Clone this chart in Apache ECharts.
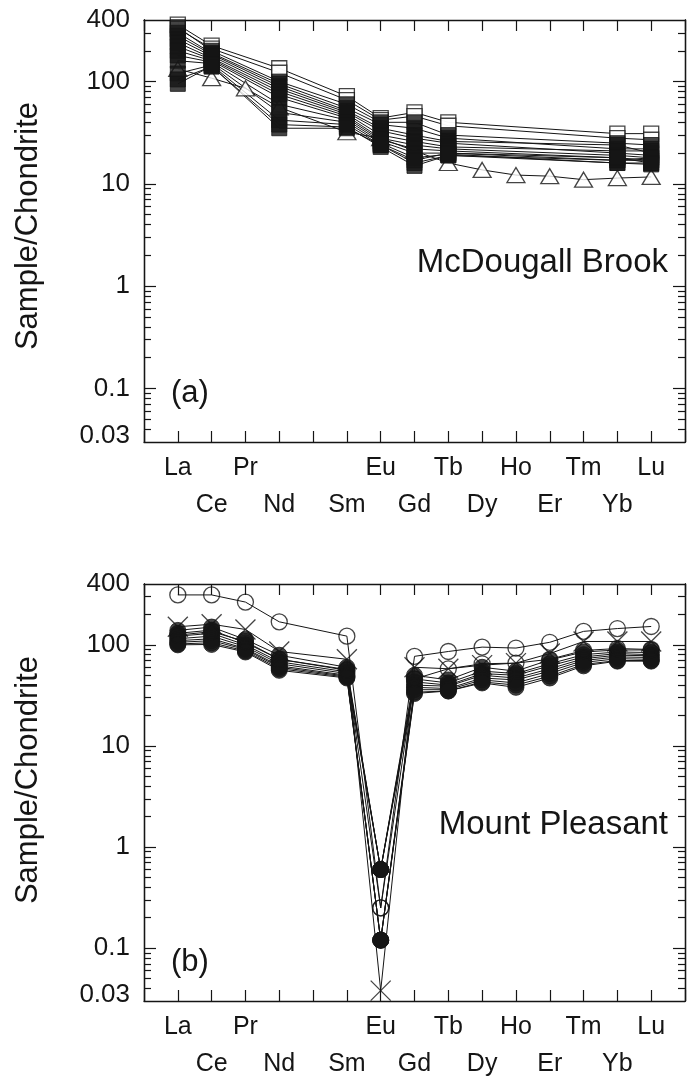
<!DOCTYPE html>
<html>
<head>
<meta charset="utf-8">
<script src="https://cdn.jsdelivr.net/npm/echarts@6.0.0/dist/echarts.min.js"></script>
<style>
html, body { margin: 0; padding: 0; background: #fff; }
#chart { width: 691px; height: 1083px; }
</style>
</head>
<body>
<div id="chart"></div>
<script>
var FONT = '"Liberation Sans", Arial, Helvetica, sans-serif';
var INK = '#151515';

// REE order on the x axis, Pm is an empty slot
var elements = ['La', 'Ce', 'Pr', 'Nd', 'Pm', 'Sm', 'Eu', 'Gd', 'Tb', 'Dy', 'Ho', 'Er', 'Tm', 'Yb', 'Lu'];

// y axis (log) labels and ticks
var yLabelValues = [0.03, 0.1, 1, 10, 100, 400];
var yMajorTicks = [0.1, 1, 10, 100];
var yMinorTicks = [0.04, 0.05, 0.06, 0.07, 0.08, 0.09,
  0.2, 0.3, 0.4, 0.5, 0.6, 0.7, 0.8, 0.9,
  2, 3, 4, 5, 6, 7, 8, 9,
  20, 30, 40, 50, 60, 70, 80, 90,
  200, 300];

// (a) McDougall Brook
var mbEls = ['La', 'Ce', 'Nd', 'Sm', 'Eu', 'Gd', 'Tb', 'Yb', 'Lu'];
var mbOpen = [
  [360, 225, 135, 72, 44, 50, 40, 31, 31],
  [330, 210, 122, 66, 42, 46, 37, 28, 27]
];
var mbFilled = [
  [340, 200, 100, 60, 40, 40, 30, 25, 24],
  [300, 190, 95, 55, 38, 35, 28, 22, 22],
  [280, 185, 90, 52, 35, 30, 26, 24, 20],
  [260, 178, 85, 50, 33, 28, 25, 20, 19],
  [240, 170, 80, 48, 30, 26, 23, 21, 21],
  [220, 165, 75, 46, 28, 24, 22, 19, 18],
  [200, 160, 70, 44, 27, 22, 21, 18, 17],
  [180, 155, 60, 42, 26, 20, 20, 17, 17],
  [160, 150, 50, 40, 25, 18, 19.5, 16, 16],
  [120, 145, 42, 38, 24, 16, 19, 16, 15.5],
  [105, 140, 38, 36, 23, 15, 19, 17, 18],
  [95, 142, 35, 35, 24, 17, 20, 18, 16]
];
var mbTriEls = ['La', 'Ce', 'Pr', 'Nd', 'Sm', 'Eu', 'Gd', 'Tb', 'Dy', 'Ho', 'Er', 'Tm', 'Yb', 'Lu'];
var mbTri = [133, 108, 86, 56, 32, 28, 21, 16, 13.7, 12.2, 11.9, 11.0, 11.4, 11.7];

// (b) Mount Pleasant
var mpEls = ['La', 'Ce', 'Pr', 'Nd', 'Sm', 'Eu', 'Gd', 'Tb', 'Dy', 'Ho', 'Er', 'Tm', 'Yb', 'Lu'];
var mpFilled = [
  [139, 150, 113, 79, 60, 0.6, 50, 45, 60, 55, 71, 85, 89, 89],
  [130, 140, 105, 72, 57, 0.6, 46, 42, 55, 52, 65, 80, 85, 84],
  [122, 130, 100, 68, 54, 0.6, 43, 40, 52, 50, 62, 76, 82, 80],
  [115, 122, 96, 65, 52, 0.6, 40, 39, 50, 47, 58, 73, 79, 78],
  [110, 115, 92, 62, 50, 0.12, 38, 37, 47, 45, 55, 70, 76, 75],
  [106, 110, 90, 60, 49, 0.12, 36, 36, 45, 42, 52, 67, 73, 72],
  [102, 105, 87, 58, 48, 0.12, 34, 35, 43, 40, 49, 64, 70, 70],
  [100, 101, 85, 56, 47, 0.12, 33, 35, 42, 38, 47, 62, 69, 69]
];
var mpOpen = [
  [312, 312, 265, 169, 122, 0.25, 77, 86, 95, 93, 106, 136, 145, 152],
  [125, 135, 108, 72, 56, 0.25, 46, 58, 65, 66, 72, 88, 92, 90]
];
var mpCross = [
  [151, 160, 142, 86, 72, 0.038, 60, 58, 63, 66, 82, 108, 108, 108]
];

var marks = {
  filledSquare: { symbol: 'rect', size: 15, style: { color: INK, borderColor: INK, borderWidth: 1 } },
  openSquare: { symbol: 'rect', size: 15, style: { color: '#fff', borderColor: INK, borderWidth: 1.3 } },
  triangle: { symbol: 'triangle', size: [18, 15], style: { color: '#fff', borderColor: INK, borderWidth: 1.3 } },
  filledCircle: { symbol: 'circle', size: 16, style: { color: INK, borderColor: INK, borderWidth: 1 } },
  openCircle: { symbol: 'circle', size: 16, style: { color: 'rgba(0,0,0,0)', borderColor: INK, borderWidth: 1.3 } },
  cross: { symbol: 'path://M0,0L10,10M10,0L0,10', size: 20, style: { color: 'rgba(0,0,0,0)', borderColor: INK, borderWidth: 1.3 } }
};

function log10s(arr) {
  return arr.map(function (v) { return Math.log10(v); });
}

function toPoints(els, vals) {
  return els.map(function (el, i) {
    return [elements.indexOf(el) + 1, Math.log10(vals[i])];
  });
}

var lines = [];
var symbols = [];
function addSample(gi, els, vals, mark) {
  var data = toPoints(els, vals);
  lines.push({
    type: 'line', xAxisIndex: gi * 2, yAxisIndex: gi * 4, data: data,
    symbol: 'none', silent: true, z: 2,
    lineStyle: { color: INK, width: 1 }
  });
  symbols.push({
    type: 'scatter', xAxisIndex: gi * 2, yAxisIndex: gi * 4, data: data,
    symbol: mark.symbol, symbolSize: mark.size, itemStyle: mark.style,
    silent: true, z: 3
  });
}

// triangles first so the square stacks cover them where they overlap
addSample(0, mbTriEls, mbTri, marks.triangle);
mbOpen.forEach(function (s) { addSample(0, mbEls, s, marks.openSquare); });
mbFilled.forEach(function (s) { addSample(0, mbEls, s, marks.filledSquare); });

mpFilled.forEach(function (s) { addSample(1, mpEls, s, marks.filledCircle); });
mpOpen.forEach(function (s) { addSample(1, mpEls, s, marks.openCircle); });
mpCross.forEach(function (s) { addSample(1, mpEls, s, marks.cross); });

var axisLineStyle = { color: INK, width: 1.3 };
var tickLineStyle = { color: INK, width: 1.2 };

function makeXAxes(gi) {
  var bottom = {
    type: 'value', gridIndex: gi, position: 'bottom', min: 0, max: 16, interval: 1,
    splitLine: { show: false },
    axisLine: { onZero: false, lineStyle: axisLineStyle },
    axisTick: { inside: true, length: 11, lineStyle: tickLineStyle },
    axisLabel: {
      margin: 8, fontSize: 25, lineHeight: 37, fontFamily: FONT, color: INK,
      formatter: function (v) {
        var name = elements[v - 1];
        if (!name || name === 'Pm') return '';
        return (v % 2 === 0 ? '\n' : '') + name;
      }
    }
  };
  var top = {
    type: 'value', gridIndex: gi, position: 'top', min: 0, max: 16, interval: 1,
    splitLine: { show: false },
    axisLine: { onZero: false, lineStyle: axisLineStyle },
    axisTick: { inside: true, length: 11, lineStyle: tickLineStyle },
    axisLabel: { show: false }
  };
  return [bottom, top];
}

function makeYAxes(gi) {
  var list = [];
  ['left', 'right'].forEach(function (side) {
    [true, false].forEach(function (major) {
      var ax = {
        type: 'value', gridIndex: gi, position: side,
        min: Math.log10(0.03), max: Math.log10(400),
        splitLine: { show: false },
        axisLine: { show: true, onZero: false, lineStyle: axisLineStyle },
        axisTick: {
          inside: true, length: major ? 12 : 7, lineStyle: tickLineStyle,
          customValues: log10s(major ? yMajorTicks : yMinorTicks)
        },
        axisLabel: { show: false }
      };
      if (side === 'left' && major) {
        ax.axisLabel = {
          show: true, margin: 14, fontSize: 26, fontFamily: FONT, color: INK,
          customValues: log10s(yLabelValues),
          rich: { low: { fontSize: 26, fontFamily: FONT, color: INK, padding: [0, 0, 12, 0] } },
          formatter: function (v) {
            for (var i = 0; i < yLabelValues.length; i++) {
              if (Math.abs(Math.log10(yLabelValues[i]) - v) < 1e-6) {
                return i === 0 ? '{low|' + yLabelValues[i] + '}' : String(yLabelValues[i]);
              }
            }
            return '';
          }
        };
      }
      list.push(ax);
    });
  });
  return list;
}

function label(text, x, y, size, align, rot) {
  return {
    type: 'text', x: x, y: y, rotation: rot || 0, silent: true,
    style: {
      text: text, fill: INK, font: size + 'px ' + FONT,
      align: align, textAlign: align, verticalAlign: 'middle', textVerticalAlign: 'middle'
    }
  };
}

var chart = echarts.init(document.getElementById('chart'));
chart.setOption({
  animation: false,
  backgroundColor: '#fff',
  grid: [
    { left: 144, top: 20, width: 541, height: 422 },
    { left: 144, top: 584, width: 541, height: 422 }
  ],
  xAxis: makeXAxes(0).concat(makeXAxes(1)),
  yAxis: makeYAxes(0).concat(makeYAxes(1)),
  series: lines.concat(symbols),
  graphic: [
    label('Sample/Chondrite', 28, 226, 31, 'center', Math.PI / 2),
    label('Sample/Chondrite', 28, 780, 31, 'center', Math.PI / 2),
    label('McDougall Brook', 668, 263, 33, 'right'),
    label('Mount Pleasant', 668, 825, 33, 'right'),
    label('(a)', 171, 393, 31, 'left'),
    label('(b)', 171, 962, 31, 'left')
  ]
});
</script>
</body>
</html>
